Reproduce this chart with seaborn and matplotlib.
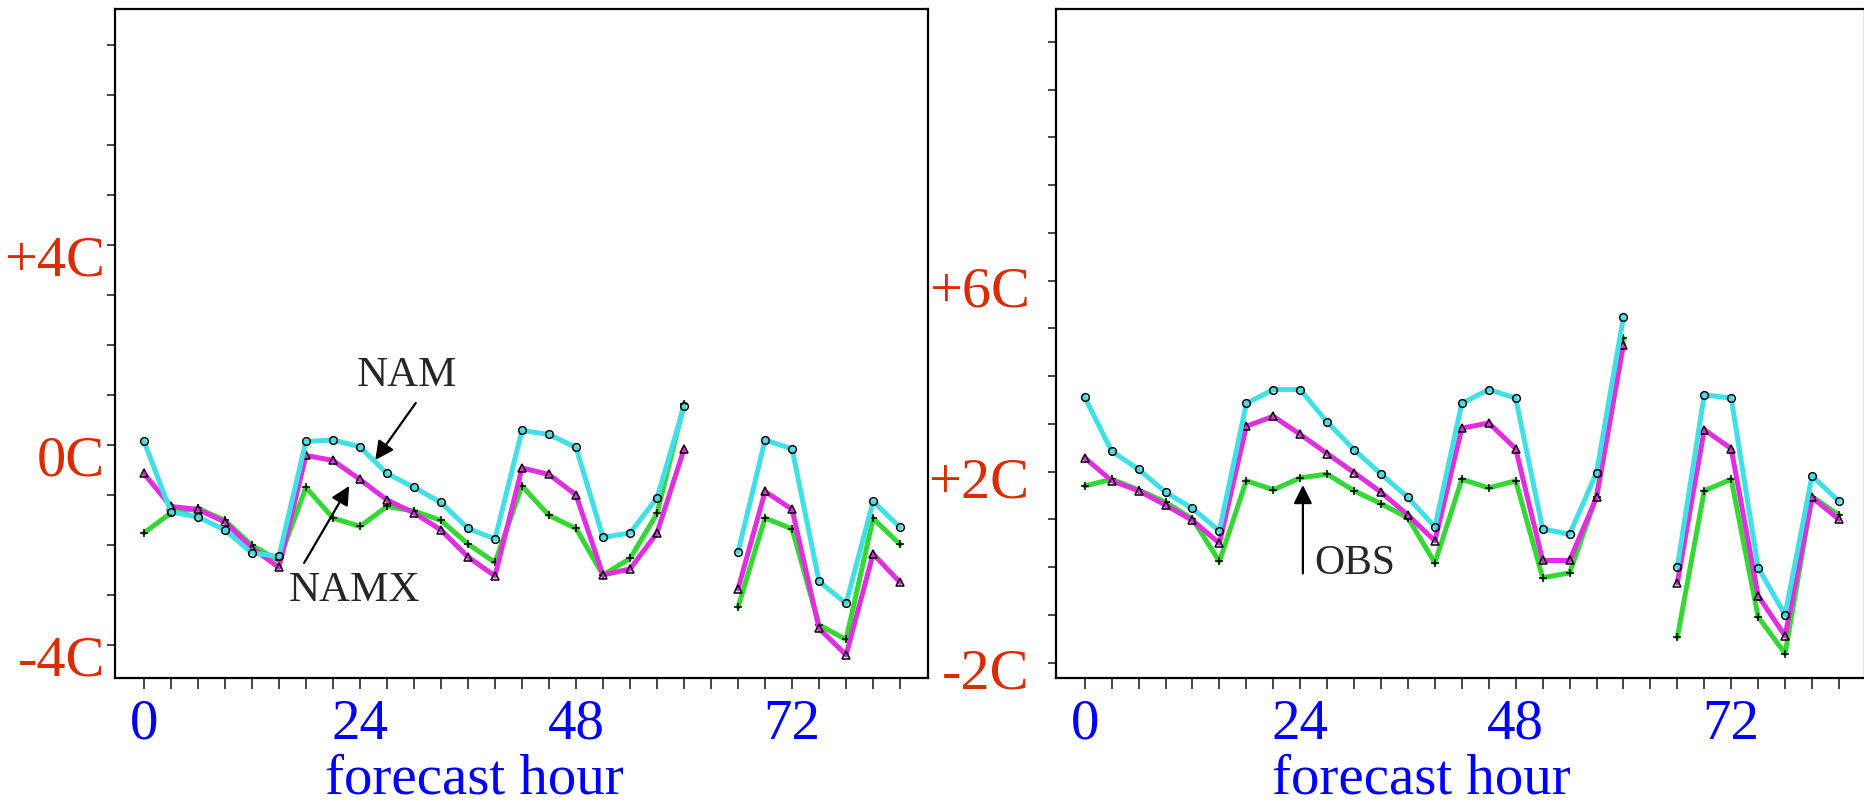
import numpy as np
import pandas as pd
import matplotlib
matplotlib.use('Agg')
import matplotlib.pyplot as plt
import matplotlib.transforms as mtransforms
import seaborn as sns
from matplotlib.ticker import FixedLocator, MultipleLocator

# Horas de pronóstico (la hora 63 falta en ambos paneles)
horas = [0, 3, 6, 9, 12, 15, 18, 21, 24, 27, 30, 33, 36, 39, 42, 45, 48, 51, 54, 57, 60,
         66, 69, 72, 75, 78, 81, 84]

# Panel izquierdo
izq_nam = [0.09, -1.33, -1.43, -1.69, -2.15, -2.22, 0.08, 0.11, -0.03, -0.56, -0.84, -1.14, -1.66, -1.87,
           0.30, 0.22, -0.04, -1.84, -1.75, -1.05, 0.78,
           -2.13, 0.11, -0.07, -2.72, -3.16, -1.12, -1.64]
izq_namx = [-0.56, -1.22, -1.28, -1.53, -2.05, -2.44, -0.20, -0.30, -0.68, -1.09, -1.35, -1.69, -2.23, -2.61,
            -0.45, -0.58, -0.99, -2.59, -2.47, -1.75, -0.07,
            -2.87, -0.92, -1.28, -3.66, -4.19, -2.17, -2.74]
izq_obs = [-1.75, -1.35, -1.26, -1.50, -2.00, -2.30, -0.84, -1.45, -1.62, -1.22, -1.31, -1.50, -1.97, -2.34,
           -0.81, -1.40, -1.66, -2.59, -2.26, -1.36, 0.83,
           -3.23, -1.45, -1.67, -3.59, -3.88, -1.46, -1.98]

# Panel derecho
der_nam = [3.56, 2.43, 2.05, 1.57, 1.23, 0.76, 3.43, 3.72, 3.72, 3.04, 2.46, 1.95, 1.46, 0.84,
           3.43, 3.72, 3.54, 0.80, 0.69, 1.98, 5.24,
           0.01, 3.61, 3.54, -0.01, -1.00, 1.91, 1.38]
der_namx = [2.29, 1.81, 1.60, 1.30, 0.98, 0.50, 2.95, 3.16, 2.78, 2.38, 1.98, 1.57, 1.09, 0.55,
            2.91, 3.02, 2.48, 0.14, 0.14, 1.46, 4.66,
            -0.33, 2.88, 2.48, -0.60, -1.44, 1.46, 1.00]
der_obs = [1.70, 1.84, 1.62, 1.36, 1.01, 0.12, 1.81, 1.62, 1.87, 1.95, 1.60, 1.33, 1.03, 0.09,
           1.84, 1.66, 1.81, -0.22, -0.12, 1.48, 4.79,
           -1.47, 1.60, 1.84, -1.04, -1.81, 1.48, 1.09]

x_ticks = [0, 24, 48, 72]
izq_yticks = [-4, 0, 4]
izq_ylabels = ['-4C', '0C', '+4C']
der_yticks = [-2, 2, 6]
der_ylabels = ['-2C', '+2C', '+6C']

modelos = ['OBS', 'NAMX', 'NAM']
colores = {'NAM': '#3fe0e6', 'NAMX': '#e02ee0', 'OBS': '#33d833'}
marcadores = {'NAM': 'o', 'NAMX': '^', 'OBS': '+'}

ROJO = '#dd2a00'
AZUL = '#0000ff'
FUENTE = ['Liberation Serif', 'DejaVu Serif']


def armar_df(nam, namx, obs):
    filas = []
    for modelo, valores in zip(['OBS', 'NAMX', 'NAM'], [obs, namx, nam]):
        for h, v in zip(horas, valores):
            filas.append({'hora': h, 'temp': v, 'modelo': modelo, 'tramo': int(h > 63)})
    return pd.DataFrame(filas)


def dibujar_panel(ax, df, ylim, xlim, yticks, ylabels, ypad, ybajar, xlab_x):
    # Una llamada por modelo: '+' no se puede mezclar con marcadores rellenos
    for modelo in modelos:
        sub = df[df['modelo'] == modelo]
        sns.lineplot(data=sub, x='hora', y='temp', units='tramo', estimator=None,
                     color=colores[modelo], marker=marcadores[modelo], lw=3.6, ms=5.5, mew=1.1,
                     mec='black', mfc='none', sort=False, ax=ax)
    ax.set_xlim(*xlim)
    ax.set_ylim(*ylim)

    ax.xaxis.set_major_locator(FixedLocator(x_ticks))
    ax.xaxis.set_minor_locator(FixedLocator(list(range(0, 85, 3))))
    ax.set_xticklabels([str(t) for t in x_ticks], fontsize=41, color=AZUL, family=FUENTE)
    ax.set_yticks(yticks)
    ax.yaxis.set_minor_locator(MultipleLocator(1))
    ax.set_yticklabels(ylabels, fontsize=42, color=ROJO, family=FUENTE)

    ax.tick_params(axis='x', which='both', direction='out', length=8, width=1.2, pad=7,
                   bottom=True)
    ax.tick_params(axis='y', which='both', direction='out', length=6, width=1.2, pad=ypad,
                   left=True)

    # Etiquetas del eje y algo más abajo, como en la figura original
    desplaz = mtransforms.ScaledTranslation(0, -ybajar / 72, ax.figure.dpi_scale_trans)
    for lab in ax.get_yticklabels():
        lab.set_transform(lab.get_transform() + desplaz)

    ax.set_xlabel('forecast hour', fontsize=41, color=AZUL, family=FUENTE)
    ax.xaxis.set_label_coords(xlab_x, -0.113)
    ax.set_ylabel('')
    for s in ax.spines.values():
        s.set_linewidth(1.6)
        s.set_color('black')


sns.set_style('white')
fig = plt.figure(figsize=(18.65, 8.07), dpi=100)
ax1 = fig.add_axes([0.0617, 0.1599, 0.4359, 0.829])
ax2 = fig.add_axes([0.5662, 0.1599, 0.4338, 0.829])

dibujar_panel(ax1, armar_df(izq_nam, izq_namx, izq_obs), (-4.65, 8.73), (-3.2, 87.1),
              izq_yticks, izq_ylabels, ypad=1, ybajar=7, xlab_x=0.442)
dibujar_panel(ax2, armar_df(der_nam, der_namx, der_obs), (-2.32, 11.69), (-3.2, 86.9),
              der_yticks, der_ylabels, ypad=13, ybajar=4.5, xlab_x=0.452)

# Anotaciones
flecha = dict(arrowstyle='-|>', color='black', lw=1.6, mutation_scale=28, shrinkA=0, shrinkB=0)
ax1.text(29.2, 1.40, 'NAM', fontsize=31, family=FUENTE, ha='center', va='center')
ax1.annotate('', xy=(25.7, -0.29), xytext=(30.2, 0.85), arrowprops=flecha)
ax1.text(23.4, -2.9, 'NAMX', fontsize=31, family=FUENTE, ha='center', va='center')
ax1.annotate('', xy=(22.8, -0.81), xytext=(17.8, -2.35), arrowprops=flecha)
ax2.text(25.6, 0.07, 'OBS', fontsize=30, family=FUENTE, ha='left', va='center')
ax2.annotate('', xy=(24.3, 1.72), xytext=(24.3, -0.13), arrowprops=flecha)

plt.savefig('out.png', dpi=100)
plt.close()
